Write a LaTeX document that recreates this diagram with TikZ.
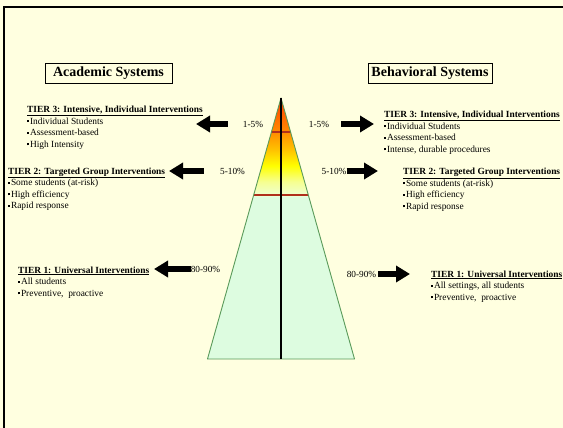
\documentclass[tikz,border=0pt]{standalone}
\usepackage{fontspec}
\setmainfont{Liberation Serif}
\usetikzlibrary{arrows.meta,calc}
\definecolor{slidebg}{HTML}{FFFFE0}
\definecolor{tgreen}{HTML}{DDFCE0}
\definecolor{tpale}{HTML}{EEFFD4}
\definecolor{tlyellow}{HTML}{F6FF90}
\definecolor{tyellow}{HTML}{FFFF00}
\definecolor{tamber}{HTML}{FFC400}
\definecolor{torange}{HTML}{FF8C00}
\definecolor{tred}{HTML}{FF3C00}
\definecolor{tierred}{HTML}{B0301C}
\definecolor{triedge}{HTML}{5A9A5A}
\pgfdeclareverticalshading{tierfill}{100bp}{color(0bp)=(tgreen); color(56bp)=(tgreen); color(56.3bp)=(tpale); color(59bp)=(tlyellow); color(62bp)=(tyellow); color(65bp)=(tamber); color(68.5bp)=(torange); color(75bp)=(tred); color(100bp)=(tred)}
\newcommand{\sqbul}{\raisebox{0.2em}{\rule{0.22em}{0.22em}}\hspace{0.08em}}
\begin{document}
\begin{tikzpicture}[x=1pt,y=-1pt,
    every node/.style={inner sep=0pt},
    titlebox/.style={draw,line width=0.8pt,minimum width=127pt,minimum height=20pt,font=\fontsize{14}{16}\selectfont\bfseries},
    tiertext/.style={anchor=base west,align=left,font=\fontsize{9.4}{11.6}\selectfont},
    pct/.style={font=\fontsize{9.3}{11}\selectfont},
    fatarrow/.style={line width=6pt,-{Triangle[length=14pt,width=16pt]}},
    tierline/.style={draw=tierred,line width=1.3pt}]
    \fill[slidebg] (0,0) rectangle (563,428);
    \useasboundingbox (0,0) rectangle (563,428);
    \draw[line width=2pt] (4,430) -- (4,7) -- (566,7);

    \coordinate (apex) at (281,98);
    \coordinate (baseL) at (207.5,359);
    \coordinate (baseR) at (354.5,359);
    \shade[shading=tierfill] (apex) -- (baseL) -- (baseR) -- cycle;
    \draw[tierline] ($(apex)!0.13!(baseL)$) -- ($(apex)!0.13!(baseR)$);
    \draw[tierline] ($(apex)!0.372!(baseL)$) -- ($(apex)!0.372!(baseR)$);
    \draw[triedge,line width=0.9pt,line join=round] (apex) -- (baseL) -- (baseR) -- cycle;
    \draw[line width=1.4pt] (apex) -- ($(baseL)!0.5!(baseR)$);

    \node[titlebox] (acadtitle) at (108.5,73) {Academic Systems};
    \node[titlebox,minimum width=124pt] (behavtitle) at (430,73) {Behavioral Systems};

    \node[tiertext] (acadT3) at (27,147.3) {\underline{\textbf{TIER 3: Intensive, Individual Interventions}}\\\sqbul Individual Students\\\sqbul Assessment-based\\\sqbul High Intensity};
    \node[tiertext] (acadT2) at (8,208.8) {\underline{\textbf{TIER 2: Targeted Group Interventions}}\\\sqbul Some students (at-risk)\\\sqbul High efficiency\\\sqbul Rapid response};
    \node[tiertext] (acadT1) at (18,296.2) {\underline{\textbf{TIER 1: Universal Interventions}}\\\sqbul All students\\\sqbul Preventive,\ \ proactive};
    \node[tiertext] (behavT3) at (384,152.3) {\underline{\textbf{TIER 3: Intensive, Individual Interventions}}\\\sqbul Individual Students\\\sqbul Assessment-based\\\sqbul Intense, durable procedures};
    \node[tiertext] (behavT2) at (403,209.3) {\underline{\textbf{TIER 2: Targeted Group Interventions}}\\\sqbul Some students (at-risk)\\\sqbul High efficiency\\\sqbul Rapid response};
    \node[tiertext] (behavT1) at (431,300.2) {\underline{\textbf{TIER 1: Universal Interventions}}\\\sqbul All settings, all students\\\sqbul Preventive,\ \ proactive};

    \node[pct] (pctA3) at (253,124) {1-5\%};
    \node[pct] (pctA2) at (232.5,171) {5-10\%};
    \node[pct] (pctA1) at (205.5,269) {80-90\%};
    \node[pct] (pctB3) at (319,124) {1-5\%};
    \node[pct] (pctB2) at (334,171) {5-10\%};
    \node[pct] (pctB1) at (361.5,274) {80-90\%};

    \coordinate (tipA3) at (196,124);
    \coordinate (tipA2) at (169,171);
    \coordinate (tipA1) at (154,269);
    \coordinate (tipB3) at (374,124);
    \coordinate (tipB2) at (378,171);
    \coordinate (tipB1) at (410,274);
    \draw[fatarrow] ([xshift=-15pt]pctA3.west) -- (tipA3);
    \draw[fatarrow] ([xshift=-16pt]pctA2.west) -- (tipA2);
    \draw[fatarrow] (pctA1.west) -- (tipA1);
    \draw[fatarrow] ([xshift=12pt]pctB3.east) -- (tipB3);
    \draw[fatarrow] (pctB2.east) -- (tipB2);
    \draw[fatarrow] ([xshift=2pt]pctB1.east) -- (tipB1);
\end{tikzpicture}
\end{document}
